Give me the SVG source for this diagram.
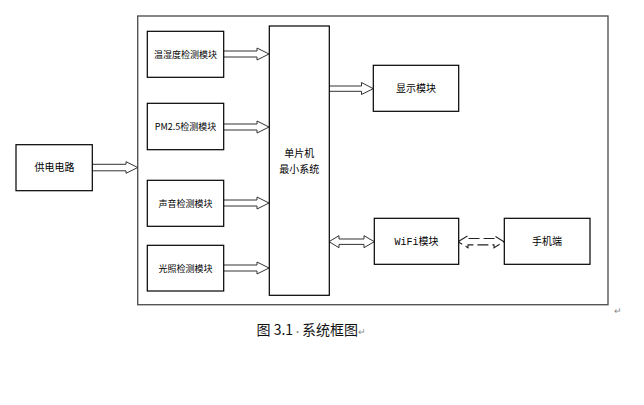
<svg xmlns="http://www.w3.org/2000/svg" width="644" height="405" viewBox="0 0 644 405">
<style>
.box{fill:#fff;stroke:#000;stroke-width:1.2}
.outer{fill:#fff;stroke:#555;stroke-width:1.4}
.arr{fill:#fff;stroke:#333;stroke-width:1}
.dash{fill:none;stroke:#222;stroke-width:1.1;stroke-dasharray:11 4}
.t{font-family:"Noto Sans CJK SC","Liberation Sans",sans-serif;font-size:10px;fill:#000;text-anchor:middle}
.s{font-size:9px}
.mark{font-family:"Liberation Sans","Noto Sans CJK SC",sans-serif;font-size:9px;fill:#888}
</style>
<rect width="644" height="405" fill="#fff"/>
<g id="system-frame"><rect class="outer" x="137.7" y="16" width="470.3" height="288.7"/></g>
<g id="connectors">
<path class="arr" d="M224,51 H257 V48 L269,54 L257,60 V57 H224"/>
<path class="arr" d="M224,124 H257 V121 L269,127 L257,133 V130 H224"/>
<path class="arr" d="M224,200 H257 V197 L269,203 L257,209 V206 H224"/>
<path class="arr" d="M224,265 H257 V262 L269,268 L257,274 V271 H224"/>
<path class="arr" d="M92.3,164.3 H126 V161.7 L137.7,167.5 L126,173.3 V170.8 H92.3"/>
<path class="arr" d="M329,86 H361.5 V82.5 L373.3,88.7 L361.5,94.5 V91.3 H329"/>
<path class="arr" d="M329,241.7 L339,235.7 V239 H364 V235.7 L374.3,241.7 L364,247.7 V244.4 H339 V247.7 Z"/>
<path class="dash" d="M458,241.7 L468,235.7 V238.5 H494 V235.7 L504,241.7 L494,247.7 V244.9 H468 V247.7 Z"/>
</g>
<g id="temp-humidity"><rect class="box" x="147.3" y="31.3" width="76.4" height="46"/><text class="t s" x="185.5" y="57.5">温湿度检测模块</text></g>
<g id="pm25"><rect class="box" x="147.3" y="103.3" width="76.4" height="46.4"/><text class="t s" x="185.5" y="130">PM2.5检测模块</text></g>
<g id="sound"><rect class="box" x="147.3" y="180.3" width="76.4" height="46"/><text class="t s" x="185.5" y="206.5">声音检测模块</text></g>
<g id="light"><rect class="box" x="147.3" y="245.3" width="76.4" height="45.7"/><text class="t s" x="185.5" y="271.5">光照检测模块</text></g>
<g id="power"><rect class="box" x="16" y="144.7" width="76.3" height="46"/><text class="t" x="54.5" y="171">供电电路</text></g>
<g id="mcu"><rect class="box" x="269.3" y="26" width="60" height="269.3"/><text class="t" x="299.3" y="157">单片机</text><text class="t" x="299.3" y="173">最小系统</text></g>
<g id="display"><rect class="box" x="373.3" y="65.3" width="85.4" height="46"/><text class="t" x="416" y="91.8">显示模块</text></g>
<g id="wifi"><rect class="box" x="374.3" y="218.3" width="84.4" height="46"/><text class="t" x="416.5" y="245"><tspan font-family="Liberation Mono" font-size="10">WiFi</tspan>模块</text></g>
<g id="phone"><rect class="box" x="504.3" y="218.3" width="85.7" height="46"/><text class="t" x="547" y="245">手机端</text></g>
<text class="mark" x="614" y="314">↵</text>
<text font-family="Noto Sans CJK SC,Liberation Sans,sans-serif" font-size="14" fill="#111" x="256.5" y="335">图 3.1<tspan fill="#888" font-size="9">·</tspan>系统框图<tspan fill="#888" font-size="9">↵</tspan></text>
</svg>
